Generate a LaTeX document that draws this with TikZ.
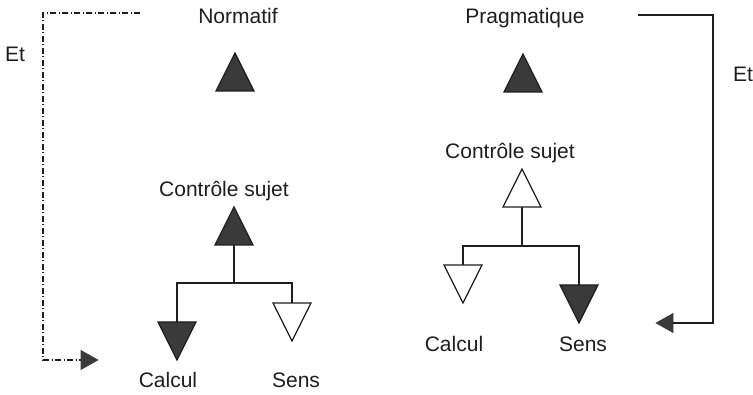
\documentclass[tikz,border=0pt]{standalone}
\usepackage{fontspec}
\setmainfont{Liberation Sans}
\usepackage{tikz}
\usetikzlibrary{shapes.geometric}
\definecolor{trigray}{HTML}{3A3A3A}
\definecolor{inkgray}{HTML}{1E1E1E}

\tikzset{
  lbl/.style={font=\fontsize{21}{25}\selectfont, text=inkgray, inner sep=0pt, anchor=base},
  tri/.style={isosceles triangle, isosceles triangle stretches,
              minimum width=38pt, minimum height=38pt, inner sep=0pt, outer sep=0pt,
              draw=inkgray, line width=1.2pt},
  triup/.style={tri, shape border rotate=90},
  tridown/.style={tri, shape border rotate=270},
  filled/.style={fill=trigray},
  hollow/.style={fill=white},
  ettip/.style={isosceles triangle, isosceles triangle stretches,
                minimum width=19pt, minimum height=17pt, inner sep=0pt, outer sep=0pt,
                fill=trigray, draw=trigray, line width=0.6pt},
  wire/.style={draw=inkgray, line width=1.2pt},
  etdash/.style={wire, dash pattern=on 6pt off 2.5pt on 1pt off 2.5pt}
}

\begin{document}
\begin{tikzpicture}[x=1pt, y=-1pt]
  \useasboundingbox (0,0) rectangle (753,395);

  % normatif
  \node[lbl] (normatif) at (238,23.5) {Normatif};
  \node[triup, filled, anchor=apex] (normTri) at (235,53) {};
  \node[lbl] (csLbl1) at (224,197) {Contrôle sujet};
  \node[triup, filled, anchor=apex] (cs1) at (234,207) {};
  \node[tridown, filled, anchor=apex] (calc1) at (177,360) {};
  \node[tridown, hollow, anchor=apex] (sens1) at (292,341) {};
  \node[lbl] (calcLbl1) at (168,388) {Calcul};
  \node[lbl] (sensLbl1) at (296,388) {Sens};
  \draw[wire] (cs1.lower side) -- ++(0,38) coordinate (fork1) -| (calc1.lower side);
  \draw[wire] (fork1) -| (sens1.lower side);

  \coordinate (etStart1) at (140,13);
  \node[ettip, shape border rotate=0, anchor=apex] (etTip1) at (98,360) {};
  \draw[etdash] (etStart1) -- ++(-97,0) |- (etTip1.lower side);
  \node[lbl] (et1) at (15,62) {Et};

  % pragmatique
  \node[lbl] (pragma) at (525,23.5) {Pragmatique};
  \node[triup, filled, anchor=apex] (pragTri) at (523,54) {};
  \node[lbl] (csLbl2) at (510,159) {Contrôle sujet};
  \node[triup, hollow, anchor=apex] (cs2) at (522,169) {};
  \node[tridown, hollow, anchor=apex] (calc2) at (463,303) {};
  \node[tridown, filled, anchor=apex] (sens2) at (579,323) {};
  \node[lbl] (calcLbl2) at (454,352) {Calcul};
  \node[lbl] (sensLbl2) at (583,352) {Sens};
  \draw[wire] (cs2.lower side) -- ++(0,39) coordinate (fork2) -| (calc2.lower side);
  \draw[wire] (fork2) -| (sens2.lower side);

  \coordinate (etStart2) at (638,15);
  \node[ettip, shape border rotate=180, anchor=apex] (etTip2) at (656,323) {};
  \draw[wire] (etStart2) -- ++(75,0) |- (etTip2.lower side);
  \node[lbl] (et2) at (743,82) {Et};
\end{tikzpicture}
\end{document}
